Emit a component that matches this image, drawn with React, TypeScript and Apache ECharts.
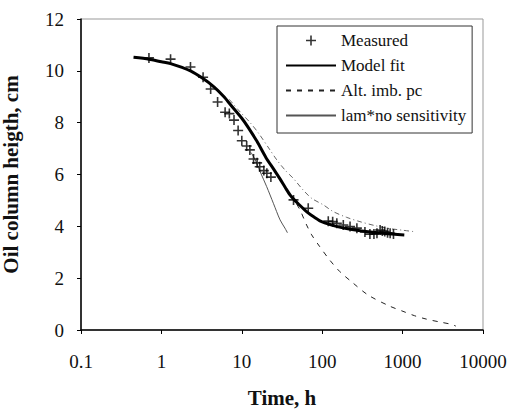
import React, { useEffect, useRef } from "react";
import * as echarts from "echarts";

const measuredT = [0.7, 1.3, 2.3, 3.3, 4.1, 5.0, 6.2, 7.0, 8.0, 9.0, 10, 11.5, 12.6, 14, 15.5, 16.7, 18.8, 20.5, 23, 44, 67, 119, 135, 152, 183, 222, 270, 340, 392, 440, 480, 525, 560, 600, 650, 700, 770];
const measuredH = [10.5, 10.45, 10.15, 9.75, 9.3, 8.8, 8.4, 8.35, 8.1, 7.7, 7.3, 7.1, 6.95, 6.6, 6.45, 6.3, 6.15, 6.05, 5.9, 5.02, 4.7, 4.2, 4.18, 4.12, 4.05, 3.99, 3.93, 3.78, 3.7, 3.7, 3.73, 3.86, 3.82, 3.8, 3.75, 3.73, 3.7];

const fitT = [0.45, 0.7, 1.0, 1.3, 2.3, 3.3, 4.5, 6, 7.2, 10, 12, 15.5, 20, 25, 30, 35, 40, 45, 50, 65, 80, 100, 150, 200, 350, 600, 1050];
const fitH = [10.52, 10.45, 10.35, 10.28, 10.0, 9.7, 9.38, 9.0, 8.7, 8.17, 7.82, 7.27, 6.65, 6.2, 5.82, 5.48, 5.2, 5.02, 4.88, 4.55, 4.35, 4.17, 4.0, 3.92, 3.8, 3.72, 3.67];

const altT = [40, 45, 53, 64, 74, 93, 124, 166, 232, 372, 692, 1012, 1412, 1977, 2890, 4027, 4600];
const altH = [5.2, 5.0, 4.63, 4.05, 3.67, 3.22, 2.7, 2.25, 1.86, 1.35, 0.92, 0.72, 0.55, 0.42, 0.31, 0.22, 0.15];

const lamT = [13, 14.5, 16.9, 20.4, 24.7, 29.9, 34.4, 37];
const lamH = [6.85, 6.6, 6.11, 5.53, 4.89, 4.25, 3.93, 3.75];

const upperT = [7, 9, 12.7, 16.1, 22.4, 27.3, 35, 43.7, 58, 74, 103, 137, 200, 295, 450, 630, 1000, 1350];
const upperH = [8.9, 8.5, 8.0, 7.6, 6.95, 6.56, 6.15, 5.85, 5.4, 5.08, 4.83, 4.57, 4.35, 4.18, 4.03, 3.93, 3.85, 3.8];

const xTicks = [0.1, 1, 10, 100, 1000, 10000];
const seriesNames = ["Measured", "Model fit", "Alt. imb. pc", "lam*no sensitivity"];

const zip = (a: number[], b: number[]) => a.map((v, i) => [v, b[i]]);

const FONT = "Liberation Serif";
const PLUS = "path://M4.2,0H5.8V4.2H10V5.8H5.8V10H4.2V5.8H0V4.2H4.2Z";
const HIDDEN_SYMBOL = { color: "rgba(0,0,0,0)", borderWidth: 0, opacity: 0 };

export default function App() {
  const ref = useRef<HTMLDivElement>(null);
  useEffect(() => {
    if (!ref.current) return;
    document.body.style.margin = "0";
    const chart = echarts.init(ref.current, undefined, { renderer: "svg" });
    chart.setOption({
      animation: false,
      backgroundColor: "#fff",
      grid: {
        left: 81,
        right: 31,
        top: 19,
        bottom: 82,
        show: true,
        borderColor: "#999",
        borderWidth: 1,
        containLabel: false,
        outerBoundsMode: "none",
      },
      legend: {
        data: seriesNames.map((n) => (n === "Measured" ? n : { name: n, itemStyle: HIDDEN_SYMBOL })),
        orient: "vertical",
        left: 277,
        top: 26,
        padding: [6, 6, 9, 8],
        itemWidth: 50,
        itemHeight: 10,
        itemGap: 8,
        backgroundColor: "#fff",
        borderColor: "#333",
        borderWidth: 1,
        textStyle: { fontFamily: FONT, fontSize: 17, color: "#111", lineHeight: 17 },
      },
      xAxis: {
        type: "log",
        logBase: 10,
        min: xTicks[0],
        max: xTicks[xTicks.length - 1],
        name: "Time, h",
        nameLocation: "middle",
        nameGap: 57,
        nameTextStyle: { fontFamily: FONT, fontSize: 21, fontWeight: "bold", color: "#111" },
        axisLine: { lineStyle: { color: "#000", width: 1.5 } },
        axisTick: { show: true, length: 4, lineStyle: { color: "#000" } },
        minorTick: { show: false },
        splitLine: { show: false },
        axisLabel: {
          fontFamily: FONT,
          fontSize: 19,
          color: "#111",
          margin: 22,
          formatter: (v: number) => (v < 1 ? v.toFixed(1) : String(Math.round(v))),
        },
      },
      yAxis: {
        type: "value",
        min: 0,
        max: 12,
        interval: 2,
        name: "Oil column heigth, cm",
        nameLocation: "middle",
        nameGap: 60,
        nameRotate: 90,
        nameTextStyle: { fontFamily: FONT, fontSize: 21, fontWeight: "bold", color: "#111" },
        axisLine: { show: true, lineStyle: { color: "#000", width: 1.5 } },
        axisTick: { show: true, length: 4, lineStyle: { color: "#000" } },
        splitLine: { show: false },
        axisLabel: { fontFamily: FONT, fontSize: 19, color: "#111", margin: 17 },
      },
      series: [
        {
          name: "upper",
          type: "line",
          data: zip(upperT, upperH),
          symbol: "none",
          smooth: 0.3,
          itemStyle: HIDDEN_SYMBOL,
          lineStyle: { color: "#666", width: 1, type: [5, 3, 1, 3] },
          z: 2,
        },
        {
          name: "lam*no sensitivity",
          type: "line",
          data: zip(lamT, lamH),
          symbol: "none",
          smooth: 0.3,
          itemStyle: HIDDEN_SYMBOL,
          lineStyle: { color: "#555", width: 1 },
          z: 2,
        },
        {
          name: "Alt. imb. pc",
          type: "line",
          data: zip(altT, altH),
          symbol: "none",
          smooth: 0.3,
          itemStyle: HIDDEN_SYMBOL,
          lineStyle: { color: "#222", width: 1, type: [5, 6] },
          z: 2,
        },
        {
          name: "Model fit",
          type: "line",
          data: zip(fitT, fitH),
          symbol: "none",
          smooth: 0.25,
          itemStyle: HIDDEN_SYMBOL,
          lineStyle: { color: "#000", width: 3 },
          z: 3,
        },
        {
          name: "Measured",
          type: "scatter",
          data: zip(measuredT, measuredH),
          symbol: PLUS,
          symbolSize: 10,
          itemStyle: { color: "#000" },
          z: 4,
        },
      ],
    });
    return () => chart.dispose();
  }, []);
  return <div ref={ref} style={{ width: 514, height: 412 }} />;
}
